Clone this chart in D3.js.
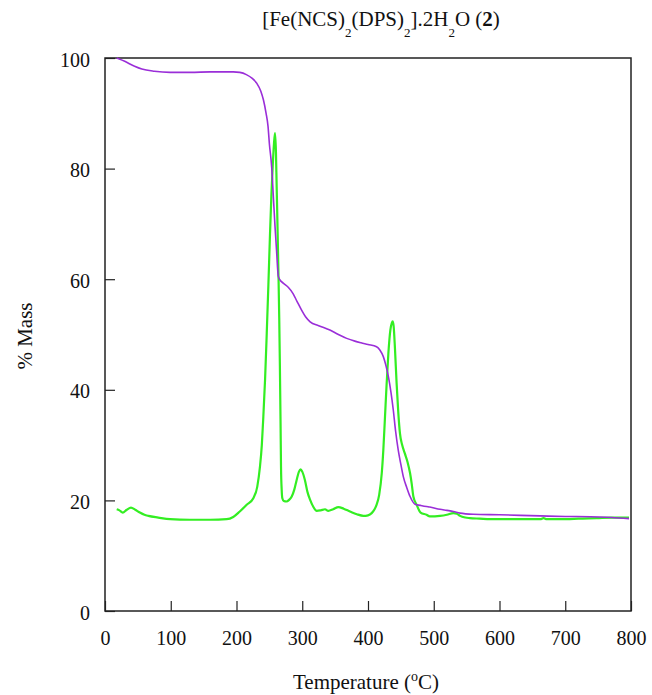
<!DOCTYPE html>
<html><head><meta charset="utf-8">
<script src="https://cdn.jsdelivr.net/npm/d3@7"></script>
<style>body{margin:0;background:#fff}svg{display:block}text{font-family:"Liberation Serif","Times New Roman",serif;fill:#111}</style>
</head><body>
<svg id="c" width="652" height="695"></svg>
<script>
const xTicks = [0,100,200,300,400,500,600,700,800];
const yTicks = [0,20,40,60,80,100];
const tgaTemp = [17.8,30,45,56,75,99,130,160,195,205,215,224,231,237,241,245,248,250,253.5,256,258.6,261,263.6,266,271,279,286,292,299,305,312,325,342,355,367.6,380,389.4,400,413,418,423.3,427,431,435,438.5,442,446,450,453.7,459,464,471.5,480,489,494,509.5,520,529.8,540,560,600,662,700,738,770,797];
const tgaMass = [100,99.4,98.5,98.0,97.6,97.4,97.4,97.5,97.5,97.4,97.0,96.3,95.4,94,92.4,90,87.6,84.5,80.3,75,69.5,65,60.5,59.9,59.3,58.5,57.4,56,54.4,53.2,52.3,51.6,50.8,50,49.3,48.8,48.5,48.2,47.8,47.2,46.0,44.5,42.4,39.5,36.3,32.5,29.1,26.5,24.3,22.3,20.7,19.3,19.1,18.9,18.8,18.4,18.2,18.0,17.7,17.5,17.4,17.2,17.1,17.05,16.9,16.7];
const dtaTemp = [17.8,22,27,33,39.5,46,53,60,66,81,99,129,160,185,195,205,215.5,225.6,231.6,235.7,238.5,240.8,243.5,246,248.5,251,253,255,257,258.6,260,261,262.3,263.6,265,266,267,267.7,268.7,269.7,272,276,280,284,288,291.5,295,297.6,300,304,308,312,317,322,328,334.6,339.6,347,355,363,372.6,383,393,400,405.6,410,413,417,421,423.3,425.8,428.4,431,434,437.5,439,441,443.5,446,448.6,452,456,460,464,466.5,469,474,480,489,494,509.5,520,530,535,540,548,555,570,585.5,620,662,667,672,702,720,748,770,797];
const dtaSignal = [18.4,18.2,17.8,18.3,18.7,18.3,17.8,17.4,17.2,16.9,16.6,16.5,16.5,16.6,17.0,18.0,19.2,20.4,22.5,26.1,30,35.1,42,50.2,59,68.3,75,80.3,84.5,86.4,83,77.3,70,62.3,53,44.2,34,26.1,22,20.4,19.9,19.8,20.1,20.7,22,23.7,25.2,25.6,25.2,23.7,21.5,20.1,18.8,18.1,18.2,18.4,18.1,18.4,18.8,18.5,18.0,17.5,17.2,17.3,17.7,18.4,19.2,21.0,25,29.1,35,41.2,46.6,50.8,52.4,51.5,47.5,41.2,36,32.1,30,28.5,27,24.9,23,20.7,19.2,17.8,17.4,17.1,17.2,17.4,17.7,17.6,17.2,16.9,16.8,16.7,16.6,16.6,16.6,16.8,16.6,16.6,16.7,16.8,16.9,16.9];

const svg = d3.select("#c");
const L=105, R=631, T=58, B=611;
const x = d3.scaleLinear().domain([0,800]).range([L,R]);
const y = d3.scaleLinear().domain([0,100]).range([B,T]);

// frame
svg.append("rect").attr("x",L).attr("y",T).attr("width",R-L).attr("height",B-T)
  .attr("fill","none").attr("stroke","#222").attr("stroke-width",1.5);

// x axis (inner ticks)
const gx = svg.append("g").attr("transform",`translate(0,${B})`)
  .call(d3.axisBottom(x).tickValues(xTicks).tickSizeInner(-10).tickSizeOuter(0).tickPadding(20));
gx.select(".domain").remove();
gx.selectAll("line").attr("stroke","#222").attr("stroke-width",1.2);
gx.selectAll("text").attr("font-size",20).attr("fill","#111");

const gy = svg.append("g").attr("transform",`translate(${L},0)`)
  .call(d3.axisLeft(y).tickValues(yTicks).tickSizeInner(-10).tickSizeOuter(0).tickPadding(15));
gy.select(".domain").remove();
gy.selectAll("line").attr("stroke","#222").attr("stroke-width",1.2);
gy.selectAll("text").attr("font-size",20).attr("fill","#111").attr("dy","0.4em");

// lines
const mk = (tx, vy) => tx.map((t,i)=>[t, vy[i]]);
const line = d3.line().x(d=>x(d[0])).y(d=>y(d[1])).curve(d3.curveMonotoneX);
svg.append("path").attr("d", line(mk(dtaTemp,dtaSignal))).attr("fill","none")
  .attr("stroke","#33ee22").attr("stroke-width",2.2);
svg.append("path").attr("d", line(mk(tgaTemp,tgaMass))).attr("fill","none")
  .attr("stroke","#9a2ed8").attr("stroke-width",1.6);

// title
const title = svg.append("text").attr("x",381).attr("y",26).attr("text-anchor","middle").attr("font-size",21);
title.append("tspan").text("[Fe(NCS)");
title.append("tspan").text("2").attr("font-size",13).attr("dy",11);
title.append("tspan").text("(DPS)").attr("dy",-11);
title.append("tspan").text("2").attr("font-size",13).attr("dy",11);
title.append("tspan").text("].2H").attr("dy",-11);
title.append("tspan").text("2").attr("font-size",13).attr("dy",11);
title.append("tspan").text("O (").attr("dy",-11);
title.append("tspan").text("2").attr("font-weight","bold");
title.append("tspan").text(")");

// x label
const xl = svg.append("text").attr("x",366).attr("y",689).attr("text-anchor","middle").attr("font-size",21);
xl.append("tspan").text("Temperature (");
xl.append("tspan").text("o").attr("font-size",14).attr("dy",-8);
xl.append("tspan").text("C)").attr("dy",8);

// y label
svg.append("text").attr("transform","translate(32,336) rotate(-90)").attr("text-anchor","middle")
  .attr("font-size",21).text("% Mass");
</script>
</body></html>
